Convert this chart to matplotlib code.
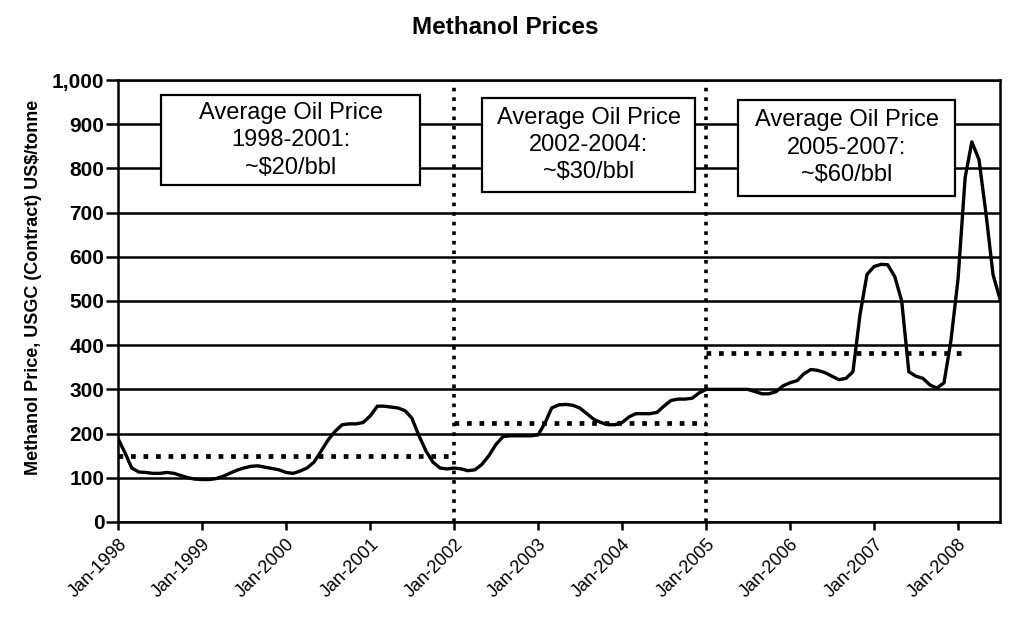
import pandas as pd
import matplotlib
matplotlib.use('Agg')
import matplotlib.pyplot as plt
import matplotlib.dates as mdates
from matplotlib.patches import Rectangle

plt.rcParams['font.family'] = ['Liberation Sans', 'DejaVu Sans']

# Monthly USGC contract methanol price, US$/tonne
p1998 = [188, 155, 122, 113, 112, 110, 110, 112, 110, 105, 100, 97]
p1999 = [96, 96, 98, 103, 110, 117, 122, 126, 127, 124, 121, 118]
p2000 = [112, 110, 115, 122, 135, 160, 185, 205, 220, 222, 222, 225]
p2001 = [240, 262, 262, 260, 258, 252, 235, 195, 160, 135, 122, 120]
p2002 = [122, 120, 116, 118, 130, 150, 175, 193, 195, 195, 195, 195]
p2003 = [197, 225, 258, 265, 266, 264, 258, 245, 232, 225, 220, 220]
p2004 = [225, 238, 245, 245, 245, 248, 262, 275, 278, 278, 280, 292]
p2005 = [300, 300, 300, 300, 300, 300, 300, 295, 290, 290, 295, 308]
p2006 = [315, 320, 335, 345, 343, 338, 330, 322, 325, 340, 470, 560]
p2007 = [578, 583, 582, 555, 500, 340, 330, 325, 310, 303, 315, 410]
p2008 = [550, 780, 860, 820, 700, 560, 505]

prices = p1998 + p1999 + p2000 + p2001 + p2002 + p2003 + p2004 + p2005 + p2006 + p2007 + p2008
dates = pd.date_range('1998-01-01', periods=len(prices), freq='MS')

# period averages: (start, end, level)
avg_periods = [('1998-01-01', '2002-01-01', 150),
               ('2002-01-01', '2005-01-01', 225),
               ('2005-01-01', '2008-02-01', 382)]
period_breaks = ['2002-01-01', '2005-01-01']

box_texts = ['Average Oil Price\n1998-2001:\n~\\$20/bbl',
             'Average Oil Price\n2002-2004:\n~\\$30/bbl',
             'Average Oil Price\n2005-2007:\n~\\$60/bbl']
# box extents (left date, right date, bottom, top)
box_spans = [('1998-07-08', '2001-08-05', 762, 966),
             ('2002-05-01', '2004-11-15', 747, 959),
             ('2005-05-20', '2007-12-20', 738, 955)]

fig = plt.figure(figsize=(10.1, 6.35), dpi=100)
ax = fig.add_axes([0.117, 0.178, 0.873, 0.696])

ax.set_ylim(0, 1000)
ax.set_xlim(pd.Timestamp('1998-01-01'), pd.Timestamp('2008-07-01'))
ax.set_yticks(range(0, 1001, 100))
ax.yaxis.set_major_formatter(matplotlib.ticker.FuncFormatter(lambda v, p: f'{int(v):,}'))
ax.yaxis.grid(True, color='black', linewidth=1.8)
ax.set_axisbelow(True)

ax.xaxis.set_major_locator(mdates.YearLocator())
ax.xaxis.set_major_formatter(mdates.DateFormatter('Jan-%Y'))
ax.tick_params(axis='y', length=9, width=1.8, labelsize=15, pad=1)
ax.tick_params(axis='x', length=6, width=1.8, labelsize=13, pad=4)
plt.setp(ax.get_yticklabels(), fontweight='bold')
plt.setp(ax.get_xticklabels(), rotation=45, ha='right', rotation_mode='anchor')

for side in ['left', 'bottom', 'right', 'top']:
    ax.spines[side].set_linewidth(1.8)
    ax.spines[side].set_color('black')

# vertical separators between the oil price periods
for d in period_breaks:
    ax.axvline(pd.Timestamp(d), color='black', linestyle=':', linewidth=2.6, zorder=3)

# average methanol price in each period
for start, end, level in avg_periods:
    ax.plot([pd.Timestamp(start), pd.Timestamp(end)], [level, level],
            color='black', linestyle=':', linewidth=3.4, zorder=3)

ax.plot(dates, prices, color='black', linewidth=2.4, zorder=4)

# annotation boxes with average oil prices
for (x0, x1, y0, y1), txt in zip(box_spans, box_texts):
    xs = mdates.date2num(pd.Timestamp(x0))
    xe = mdates.date2num(pd.Timestamp(x1))
    ax.add_patch(Rectangle((xs, y0), xe - xs, y1 - y0, facecolor='white',
                           edgecolor='black', linewidth=1.6, zorder=5))
    ax.text((xs + xe) / 2, (y0 + y1) / 2, txt, ha='center', va='center',
            fontsize=17, linespacing=1.32, zorder=6)

ax.set_ylabel('Methanol Price, USGC (Contract) US$/tonne', fontsize=13,
              fontweight='bold', labelpad=10)
ax.yaxis.set_label_coords(-0.086, 0.53)
fig.suptitle('Methanol Prices', fontsize=17.5, fontweight='bold', x=0.5, y=0.975)

fig.savefig('out.png', dpi=100)
